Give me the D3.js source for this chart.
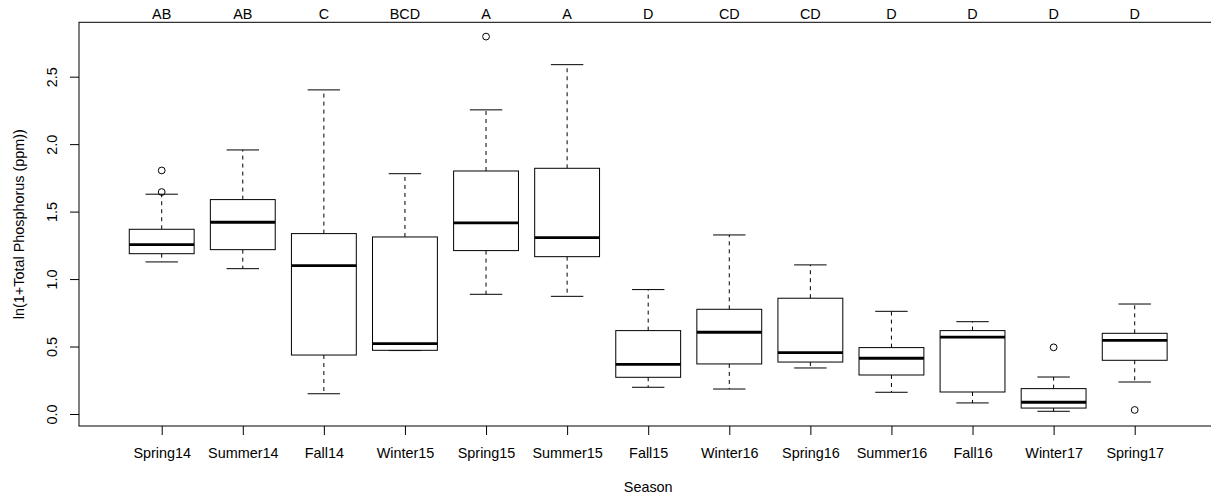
<!DOCTYPE html>
<html>
<head>
<meta charset="utf-8">
<script src="https://cdn.jsdelivr.net/npm/d3@7"></script>
<style>
  html, body { margin: 0; padding: 0; background: #fff; }
  svg { display: block; font-family: "Liberation Sans", Arial, Helvetica, sans-serif; }
</style>
</head>
<body>
<svg id="chart" width="1211" height="502"></svg>
<script>
// Seasons sampled, in plotting order
const seasons = ["Spring14", "Summer14", "Fall14", "Winter15", "Spring15", "Summer15",
                 "Fall15", "Winter16", "Spring16", "Summer16", "Fall16", "Winter17", "Spring17"];

// Compact letter display from the post-hoc comparison
const groupLetters = ["AB", "AB", "C", "BCD", "A", "A", "D", "CD", "CD", "D", "D", "D", "D"];

// Five-number summaries of ln(1 + total phosphorus)
const lowerWhisker = [1.127, 1.077, 0.150, 0.470, 0.887, 0.872, 0.198, 0.185, 0.341, 0.161, 0.082, 0.020, 0.237];
const lowerHinge   = [1.188, 1.218, 0.437, 0.472, 1.211, 1.166, 0.272, 0.371, 0.385, 0.289, 0.163, 0.044, 0.398];
const medians      = [1.255, 1.421, 1.099, 0.521, 1.416, 1.307, 0.368, 0.606, 0.455, 0.413, 0.569, 0.087, 0.546];
const upperHinge   = [1.369, 1.589, 1.337, 1.312, 1.801, 1.821, 0.618, 0.776, 0.858, 0.492, 0.618, 0.188, 0.598];
const upperWhisker = [1.629, 1.957, 2.402, 1.781, 2.254, 2.589, 0.922, 1.327, 1.105, 0.761, 0.684, 0.274, 0.815];

// Points beyond the whiskers: season index and value
const outlierSeason = [0, 0, 4, 11, 12];
const outlierValue  = [1.645, 1.805, 2.797, 0.494, 0.030];

const yTicks = [0, 0.5, 1.0, 1.5, 2.0, 2.5];

const svg = d3.select("#chart");

// Plot region (the right edge of the frame runs past the canvas)
const plotL = 79, plotR = 1217.4, plotT = 22.3, plotB = 426;

const x = d3.scaleLinear().domain([-0.02, 14.02]).range([plotL, plotR]);
const y = d3.scaleLinear().domain([-0.089, 2.903]).range([plotB, plotT]);

const boxHalf = 0.4, capHalf = 0.2;

const boxes = seasons.map((s, i) => ({
  i, s,
  lo: lowerWhisker[i], q1: lowerHinge[i], med: medians[i], q3: upperHinge[i], hi: upperWhisker[i]
}));

const g = svg.append("g");

// Whiskers (dashed) and caps
const wg = g.selectAll("g.whisk").data(boxes).join("g").attr("class", "whisk");
wg.append("line")
  .attr("x1", d => x(d.i + 1)).attr("x2", d => x(d.i + 1))
  .attr("y1", d => y(d.q3)).attr("y2", d => y(d.hi))
  .attr("stroke", "#000").attr("stroke-width", 1).attr("stroke-dasharray", "4,4");
wg.append("line")
  .attr("x1", d => x(d.i + 1)).attr("x2", d => x(d.i + 1))
  .attr("y1", d => y(d.q1)).attr("y2", d => y(d.lo))
  .attr("stroke", "#000").attr("stroke-width", 1).attr("stroke-dasharray", "4,4");
wg.append("line")
  .attr("x1", d => x(d.i + 1 - capHalf)).attr("x2", d => x(d.i + 1 + capHalf))
  .attr("y1", d => y(d.hi)).attr("y2", d => y(d.hi))
  .attr("stroke", "#000").attr("stroke-width", 1);
wg.append("line")
  .attr("x1", d => x(d.i + 1 - capHalf)).attr("x2", d => x(d.i + 1 + capHalf))
  .attr("y1", d => y(d.lo)).attr("y2", d => y(d.lo))
  .attr("stroke", "#000").attr("stroke-width", 1);

// Boxes
g.selectAll("rect.box").data(boxes).join("rect").attr("class", "box")
  .attr("x", d => x(d.i + 1 - boxHalf))
  .attr("width", d => x(d.i + 1 + boxHalf) - x(d.i + 1 - boxHalf))
  .attr("y", d => y(d.q3))
  .attr("height", d => y(d.q1) - y(d.q3))
  .attr("fill", "#fff").attr("stroke", "#000").attr("stroke-width", 1);

// Medians
g.selectAll("line.med").data(boxes).join("line").attr("class", "med")
  .attr("x1", d => x(d.i + 1 - boxHalf)).attr("x2", d => x(d.i + 1 + boxHalf))
  .attr("y1", d => y(d.med)).attr("y2", d => y(d.med))
  .attr("stroke", "#000").attr("stroke-width", 2.8);

// Outliers as open circles
g.selectAll("circle.out").data(outlierValue.map((v, k) => ({ i: outlierSeason[k], v })))
  .join("circle").attr("class", "out")
  .attr("cx", d => x(d.i + 1)).attr("cy", d => y(d.v)).attr("r", 3.4)
  .attr("fill", "none").attr("stroke", "#000").attr("stroke-width", 1);

// Frame
svg.append("rect")
  .attr("x", plotL).attr("y", plotT)
  .attr("width", plotR - plotL).attr("height", plotB - plotT)
  .attr("fill", "none").attr("stroke", "#000").attr("stroke-width", 1);

const fs = 14.4;

// Left axis with labels parallel to the axis
const ay = svg.append("g").attr("transform", `translate(${plotL},0)`)
  .call(d3.axisLeft(y).tickValues(yTicks).tickFormat(d3.format(".1f")).tickSize(9).tickSizeOuter(0));
ay.select(".domain").remove();
ay.selectAll(".tick line").attr("stroke", "#000");
ay.selectAll(".tick text")
  .attr("x", null).attr("y", null).attr("dy", "0.35em")
  .attr("text-anchor", "middle")
  .attr("transform", `translate(${52 - plotL},0) rotate(-90)`)
  .attr("font-size", fs).attr("fill", "#000");
ay.attr("font-family", null).attr("font-size", null);

// Bottom axis with season names
const ax = svg.append("g").attr("transform", `translate(0,${plotB})`)
  .call(d3.axisBottom(x).tickValues(d3.range(1, seasons.length + 1))
    .tickFormat(v => seasons[v - 1]).tickSize(9).tickSizeOuter(0));
ax.select(".domain").remove();
ax.selectAll(".tick line").attr("stroke", "#000");
ax.selectAll(".tick text")
  .attr("y", 27).attr("dy", "0.35em")
  .attr("font-size", fs).attr("fill", "#000");
ax.attr("font-family", null).attr("font-size", null);

// Group letters above each box
svg.append("g").selectAll("text").data(groupLetters).join("text")
  .attr("x", (d, i) => x(i + 1)).attr("y", 14).attr("dy", "0.35em")
  .attr("text-anchor", "middle").attr("font-size", fs).attr("fill", "#000")
  .text(d => d);

// Axis titles
svg.append("text")
  .attr("x", (plotL + plotR) / 2).attr("y", 487).attr("dy", "0.35em")
  .attr("text-anchor", "middle").attr("font-size", fs).attr("fill", "#000")
  .text("Season");

svg.append("text")
  .attr("transform", `translate(19,${(plotT + plotB) / 2}) rotate(-90)`)
  .attr("dy", "0.35em")
  .attr("text-anchor", "middle").attr("font-size", fs).attr("fill", "#000")
  .text("ln(1+Total Phosphorus (ppm))");
</script>
</body>
</html>
